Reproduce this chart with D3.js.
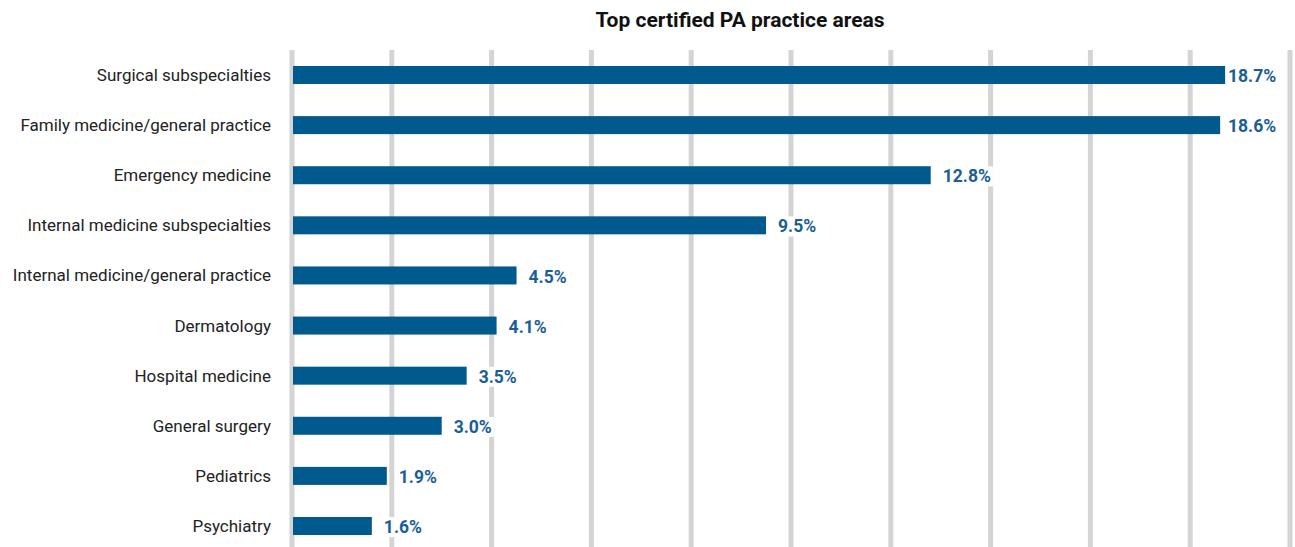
<!DOCTYPE html>
<html>
<head>
<meta charset="utf-8">
<script src="https://cdn.jsdelivr.net/npm/d3@7"></script>
<style>
  body { margin: 0; background: #fff; }
  svg { display: block; }
</style>
</head>
<body>
<div id="chart"></div>
<script>
// Data
const categories = [
    "Surgical subspecialties",
    "Family medicine/general practice",
    "Emergency medicine",
    "Internal medicine subspecialties",
    "Internal medicine/general practice",
    "Dermatology",
    "Hospital medicine",
    "General surgery",
    "Pediatrics",
    "Psychiatry"
];
const shares = [18.7, 18.6, 12.8, 9.5, 4.5, 4.1, 3.5, 3.0, 1.9, 1.6];
const gridTicks = [0, 2, 4, 6, 8, 10, 12, 14, 16, 18, 20];

const width = 1295, height = 547;
const font = "Roboto, 'Noto Sans', sans-serif";

const svg = d3.select("#chart")
    .append("svg")
    .attr("width", width)
    .attr("height", height);

const x = d3.scaleLinear().domain([0, 20]).range([292, 1290]);
const y = d3.scalePoint().domain(categories).range([75, 526]);
const barH = 18;

// Title
svg.append("text")
    .attr("x", 740)
    .attr("y", 27)
    .attr("text-anchor", "middle")
    .attr("font-family", font)
    .attr("font-weight", "bold")
    .attr("font-size", 21)
    .attr("fill", "#111")
    .text("Top certified PA practice areas");

// Vertical gridlines
svg.append("g")
    .selectAll("line")
    .data(gridTicks)
    .join("line")
    .attr("x1", d => x(d))
    .attr("x2", d => x(d))
    .attr("y1", 50)
    .attr("y2", height)
    .attr("stroke", "#d4d4d4")
    .attr("stroke-width", 5);

// Bars
svg.append("g")
    .selectAll("rect")
    .data(categories)
    .join("rect")
    .attr("x", x(0) + 1)
    .attr("y", d => y(d) - barH / 2)
    .attr("width", (d, i) => x(shares[i]) - x(0) - 1)
    .attr("height", barH)
    .attr("fill", "#005a8d");

// Category labels
svg.append("g")
    .selectAll("text")
    .data(categories)
    .join("text")
    .attr("x", 271)
    .attr("y", d => y(d))
    .attr("dy", "0.35em")
    .attr("text-anchor", "end")
    .attr("font-family", font)
    .attr("font-size", 17)
    .attr("fill", "#222")
    .text(d => d);

// Value labels with white backing
const vals = svg.append("g")
    .selectAll("g")
    .data(categories)
    .join("g")
    .attr("transform", (d, i) => `translate(${Math.min(x(shares[i]) + 12, 1228)},${y(d) + 1})`);

const valText = vals.append("text")
    .attr("dy", "0.35em")
    .attr("font-family", font)
    .attr("font-weight", "bold")
    .attr("font-size", 17.5)
    .attr("fill", "#1a5e96")
    .text((d, i) => shares[i].toFixed(1) + "%");

valText.each(function () {
    const b = this.getBBox();
    d3.select(this.parentNode).insert("rect", "text")
        .attr("x", b.x - 2)
        .attr("y", b.y)
        .attr("width", b.width + 4)
        .attr("height", b.height)
        .attr("fill", "#fff");
});
</script>
</body>
</html>
